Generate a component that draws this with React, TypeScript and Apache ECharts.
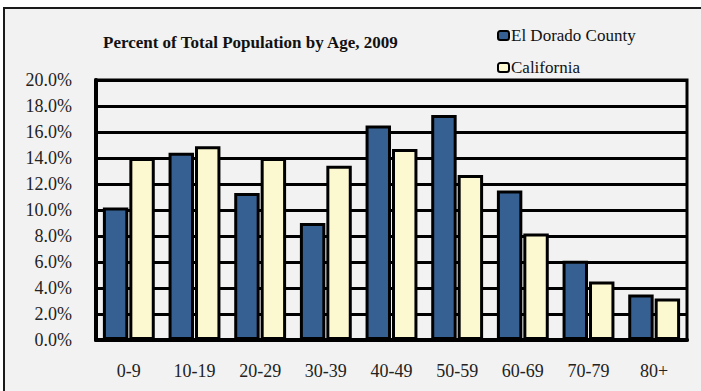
import React, { useEffect, useRef } from "react";
import * as echarts from "echarts";

const ageGroups = ["0-9", "10-19", "20-29", "30-39", "40-49", "50-59", "60-69", "70-79", "80+"];
const elDorado = [10.2, 14.4, 11.3, 9.0, 16.5, 17.3, 11.5, 6.1, 3.5];
const california = [14.0, 14.9, 14.0, 13.4, 14.7, 12.7, 8.2, 4.5, 3.2];
const seriesNames = ["El Dorado County", "California"];

const FONT = "Liberation Serif";

export default function App() {
  const ref = useRef<HTMLDivElement>(null);

  useEffect(() => {
    if (!ref.current) return;
    const chart = echarts.init(ref.current, null, { renderer: "svg" });
    chart.setOption({
      animation: false,
      backgroundColor: "#ffffff",
      textStyle: { fontFamily: FONT, color: "#222" },
      graphic: [
        {
          type: "rect",
          z: -10,
          shape: { x: 4, y: 8, width: 720, height: 420 },
          style: { fill: "#f2f2f2", stroke: "#1a1a1a", lineWidth: 2 },
        },
      ],
      title: {
        text: "Percent of Total Population by Age, 2009",
        left: 98,
        top: 29,
        textStyle: { fontFamily: FONT, fontSize: 17, fontWeight: "bold", color: "#111" },
      },
      legend: {
        orient: "vertical",
        left: 492,
        top: 22,
        itemWidth: 11,
        itemHeight: 9,
        itemGap: 15,
        icon: "roundRect",
        data: seriesNames,
        textStyle: { fontFamily: FONT, fontSize: 17, color: "#111", padding: [0, 0, 0, -3] },
        itemStyle: { borderColor: "#000", borderWidth: 2 },
      },
      grid: {
        left: 96,
        right: 14,
        top: 80,
        bottom: 51,
        show: true,
        backgroundColor: "transparent",
        borderColor: "#000",
        borderWidth: 3,
      },
      xAxis: {
        type: "category",
        data: ageGroups,
        axisLine: { lineStyle: { color: "#000", width: 4 } },
        axisTick: { show: false },
        axisLabel: { fontFamily: FONT, fontSize: 18, color: "#222", margin: 22 },
      },
      yAxis: {
        type: "value",
        min: 0,
        max: 20,
        interval: 2,
        axisLine: { show: true, lineStyle: { color: "#000", width: 4 } },
        axisTick: { show: false },
        axisLabel: {
          fontFamily: FONT,
          fontSize: 18,
          color: "#222",
          margin: 24,
          formatter: (v: number) => v.toFixed(1) + "%",
        },
        splitLine: { lineStyle: { color: "#000", width: 3 } },
      },
      series: [
        {
          name: seriesNames[0],
          type: "bar",
          data: elDorado,
          barGap: "4%",
          barCategoryGap: "21%",
          itemStyle: { color: "#376092", borderColor: "#000", borderWidth: 3 },
        },
        {
          name: seriesNames[1],
          type: "bar",
          data: california,
          barGap: "4%",
          barCategoryGap: "21%",
          itemStyle: { color: "#fcf8cf", borderColor: "#000", borderWidth: 3 },
        },
      ],
    });
    return () => chart.dispose();
  }, []);

  return (
    <div
      ref={ref}
      style={{ position: "fixed", left: 0, top: 0, width: 701, height: 391 }}
    />
  );
}
